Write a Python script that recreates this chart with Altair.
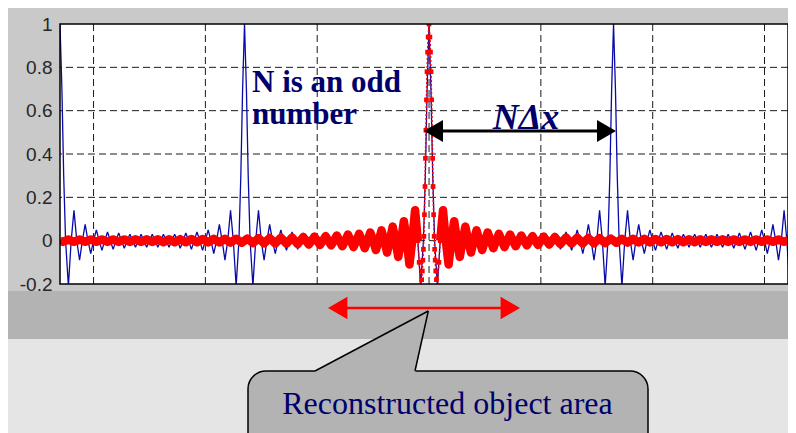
import altair as alt
import pandas as pd

# ---------------- values ----------------
X_DOMAIN = [-3.3, 3.21]
Y_DOMAIN = [-0.2, 1.0]
y_ticks = [-0.2, 0, 0.2, 0.4, 0.6, 0.8, 1]
x_grid = [-3, -2, -1, 0, 1, 2, 3]
y_grid = [0, 0.2, 0.4, 0.6, 0.8]

# blue periodic replicas: peaks N*dx apart
peak_positions = [-3.3, -1.65, 0.0, 1.65, 3.3]
zero_step = 0.05  # spacing of the zero crossings

# blue main lobe (offset from peak, value)
blue_main_dx = [0.0, 0.017, 0.033, 0.05]
blue_main_y = [1.0, 0.70, 0.30, 0.0]
# blue side-lobe extrema from the peak to the middle of the period
blue_lobes = [-0.21, 0.14, -0.09, 0.075, -0.06, 0.05, -0.045, 0.04,
              -0.04, 0.035, -0.035, 0.03, -0.03, 0.03, -0.03, 0.03]

# red reconstructed object: central lobe (dotted, with markers)
red_main_dx = [0.0, 0.008, 0.013, 0.018, 0.023, 0.028, 0.032, 0.036, 0.041,
               0.046, 0.05, 0.055, 0.06, 0.066, 0.075, 0.088, 0.1]
red_main_y = [1.0, 0.94, 0.87, 0.78, 0.65, 0.51, 0.38, 0.25, 0.12,
              0.02, -0.04, -0.09, -0.14, -0.18, -0.21, -0.1, 0.0]
# red side-lobe extrema, lobe 2 .. 65 from the centre
red_lobes = [0.14, -0.11, 0.09, -0.075, 0.065, -0.055, 0.048, -0.043,
             0.038, -0.035, 0.032, -0.030, 0.028, -0.026, 0.024, -0.022,
             0.021, -0.020, 0.019, -0.018, 0.017, -0.016, 0.015, -0.014,
             0.014, -0.013, 0.012, -0.012, 0.011, -0.011, 0.010, -0.0095,
             0.009, -0.009, 0.0087, -0.0085, 0.0082, -0.008, 0.0078, -0.0076,
             0.0075, -0.0073, 0.0071, -0.007, 0.0068, -0.0067, 0.0066, -0.0064,
             0.0063, -0.0062, 0.0061, -0.006, 0.0058, -0.0057, 0.0057, -0.0056,
             0.0055, -0.0054, 0.0053, -0.0052, 0.0051, -0.005, 0.005, -0.0049]

# ---------------- build tables ----------------
half = list(zip(blue_main_dx, blue_main_y))
for k, a in enumerate(blue_lobes, start=1):
    half.append(((k + 0.5) * zero_step, a))
    if k < len(blue_lobes):
        half.append(((k + 1) * zero_step, 0.0))
period = peak_positions[1] - peak_positions[0]
full = half + [(period - dx, v) for dx, v in reversed(half[:-1])]
bx, by = [], []
for c in peak_positions[:-1]:
    for dx, v in full[:-1]:
        bx.append(round(c + dx, 4))
        by.append(v)
bx.append(peak_positions[-1])
by.append(full[-1][1])
blue_df = pd.DataFrame({"x": bx, "y": by})

right = [(red_main_dx[-1], 0.0)]
for k, a in enumerate(red_lobes, start=2):
    right.append(((k + 0.5) * zero_step, a))
    right.append(((k + 1) * zero_step, 0.0))
red_side_df = pd.DataFrame(
    [{"x": round(-dx, 4), "y": v, "side": "L"} for dx, v in right]
    + [{"x": round(dx, 4), "y": v, "side": "R"} for dx, v in right]
)
central = [(-dx, v) for dx, v in reversed(list(zip(red_main_dx[1:], red_main_y[1:])))] \
    + list(zip(red_main_dx, red_main_y))
red_mid_df = pd.DataFrame({"x": [c[0] for c in central], "y": [c[1] for c in central]})

# ---------------- layout helpers ----------------
W, H = 728, 260
xs = alt.Scale(domain=X_DOMAIN, nice=False, zero=False)
ys = alt.Scale(domain=Y_DOMAIN, nice=False, zero=False)
y_axis = alt.Axis(values=y_ticks, grid=False, ticks=False, tickSize=0, domain=False,
                  labelFont="Liberation Sans", labelFontSize=19, labelColor="#262626",
                  labelPadding=8, title=None, zindex=1,
                  labelExpr="replace(format(datum.value, '~g'), '\u2212', '-')")
one = pd.DataFrame({"k": [0]})


def px2x(p):
    return X_DOMAIN[0] + p * (X_DOMAIN[1] - X_DOMAIN[0]) / W


def px2y(p):
    return Y_DOMAIN[1] - p * (Y_DOMAIN[1] - Y_DOMAIN[0]) / H


def box(x1, x2, y1, y2, **kw):
    return alt.Chart(one).mark_rect(**kw).encode(
        x=alt.value(x1), x2=alt.value(x2), y=alt.value(y1), y2=alt.value(y2))


NAVY = "#00006b"
layers = []
layers.append(box(-52, W + 2, -16, 267, color="#c9c9c9"))        # figure panel
layers.append(box(-52, W + 2, 267, 315, color="#b3b3b3"))        # band over x labels
layers.append(box(0, W, 0, H, color="white"))                     # axes area

layers.append(alt.Chart(pd.DataFrame({"g": y_grid})).mark_rule(
    color="#1a1a1a", strokeWidth=1, strokeDash=[7, 4]).encode(
    y=alt.Y("g:Q", scale=ys, axis=y_axis)))
layers.append(alt.Chart(pd.DataFrame({"g": x_grid})).mark_rule(
    color="#1a1a1a", strokeWidth=1, strokeDash=[7, 4]).encode(
    x=alt.X("g:Q", scale=xs, axis=None)))

layers.append(alt.Chart(blue_df).mark_line(
    color="#0a0aa8", strokeWidth=1.3, clip=True, strokeJoin="bevel").encode(
    x=alt.X("x:Q", scale=xs, axis=None), y=alt.Y("y:Q", scale=ys, axis=y_axis)))

layers.append(alt.Chart(red_side_df).mark_line(
    color="#ff0000", strokeWidth=8.5, clip=True, strokeJoin="round").encode(
    x=alt.X("x:Q", scale=xs, axis=None), y=alt.Y("y:Q", scale=ys, axis=y_axis),
    detail="side:N"))
layers.append(alt.Chart(red_mid_df).mark_line(
    color="#ff0000", strokeWidth=1.5, strokeDash=[2, 2], clip=True).encode(
    x=alt.X("x:Q", scale=xs, axis=None), y=alt.Y("y:Q", scale=ys, axis=y_axis)))
layers.append(alt.Chart(red_mid_df).mark_square(
    color="#ff0000", size=22, opacity=1, clip=True).encode(
    x=alt.X("x:Q", scale=xs, axis=None), y=alt.Y("y:Q", scale=ys, axis=y_axis)))

layers.append(box(0, W, 0, H, filled=False, stroke="black", strokeWidth=1.5))

# texts
layers.append(alt.Chart(one).mark_text(
    text=["N is an odd", "number"], lineHeight=32, font="Liberation Serif",
    fontWeight="bold", fontSize=31, color=NAVY, align="left",
    baseline="alphabetic").encode(x=alt.value(192), y=alt.value(68)))
layers.append(alt.Chart(one).mark_text(
    text="N\u0394x", font="Liberation Serif", fontWeight="bold", fontStyle="italic",
    fontSize=36, color=NAVY, align="center", baseline="alphabetic").encode(
    x=alt.value(466), y=alt.value(105)))

# black N*dx arrow
layers.append(alt.Chart(one).mark_rule(color="black", strokeWidth=3).encode(
    x=alt.value(372), x2=alt.value(548), y=alt.value(107)))
layers.append(alt.Chart(one).mark_point(shape="triangle-left", size=484, filled=True,
                                        color="black", opacity=1).encode(
    x=alt.value(373.5), y=alt.value(107)))
layers.append(alt.Chart(one).mark_point(shape="triangle-right", size=484, filled=True,
                                        color="black", opacity=1).encode(
    x=alt.value(546.5), y=alt.value(107)))

# red object-area arrow
layers.append(alt.Chart(one).mark_rule(color="#ff0000", strokeWidth=2.5).encode(
    x=alt.value(275), x2=alt.value(453), y=alt.value(284)))
layers.append(alt.Chart(one).mark_point(shape="triangle-left", size=500, filled=True,
                                        color="#ff0000", opacity=1).encode(
    x=alt.value(277.7), y=alt.value(284)))
layers.append(alt.Chart(one).mark_point(shape="triangle-right", size=500, filled=True,
                                        color="#ff0000", opacity=1).encode(
    x=alt.value(450.3), y=alt.value(284)))

# callout
layers.append(box(188, 588, 347, 440, color="#b3b3b3", stroke="black",
                  strokeWidth=1.5, cornerRadius=18))
A, T, B = (255, 347), (368.3, 287), (355, 347)
yAT_B = A[1] + (T[1] - A[1]) * (B[0] - A[0]) / (T[0] - A[0])
tri = pd.DataFrame({
    "x": [px2x(A[0]), px2x(B[0]), px2x(T[0])],
    "y": [px2y(A[1]), px2y(yAT_B), px2y(T[1])],
    "y2": [px2y(A[1] + 3), px2y(B[1] + 3), px2y(T[1])],
})
layers.append(alt.Chart(tri).mark_area(color="#b3b3b3", opacity=1).encode(
    x=alt.X("x:Q", scale=xs, axis=None), y=alt.Y("y:Q", scale=ys, axis=y_axis), y2="y2:Q"))
layers.append(box(A[0] + 2, B[0] - 0.5, A[1] - 1.2, A[1] + 3, color="#b3b3b3"))
layers.append(alt.Chart(one).mark_rule(color="black", strokeWidth=1.5).encode(
    x=alt.value(A[0]), y=alt.value(A[1]), x2=alt.value(T[0]), y2=alt.value(T[1])))
layers.append(alt.Chart(one).mark_rule(color="black", strokeWidth=1.5).encode(
    x=alt.value(B[0]), y=alt.value(B[1]), x2=alt.value(T[0]), y2=alt.value(T[1])))
layers.append(alt.Chart(one).mark_text(
    text="Reconstructed object area", font="Liberation Serif", fontSize=32,
    color=NAVY, align="center", baseline="alphabetic").encode(
    x=alt.value(387.5), y=alt.value(390)))

chart = alt.layer(*layers).properties(
    width=W, height=H,
    autosize=alt.AutoSizeParams(type="none"),
    padding={"left": 52, "top": 16, "right": 0, "bottom": 149},
    background="#e5e5e5",
).configure_view(stroke=None)

chart.save("out.html", embed_options={"renderer": "svg", "actions": False})
